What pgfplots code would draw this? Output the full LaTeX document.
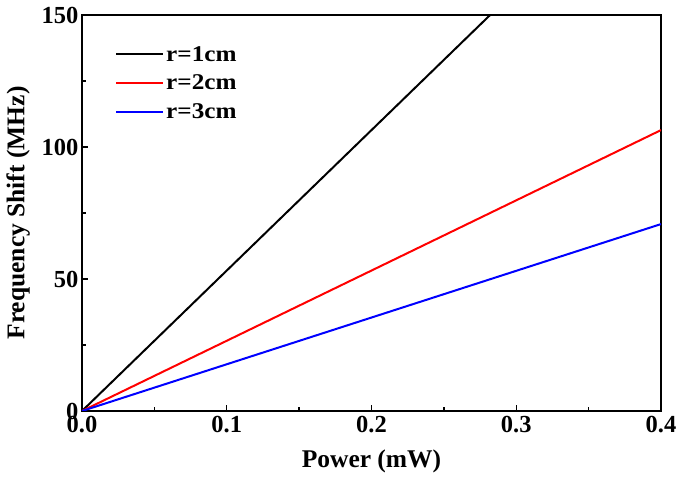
\documentclass[border=0pt]{standalone}
\usepackage{pgfplots}
\pgfplotsset{compat=1.18}
\usepackage{fontspec}
\setmainfont{Liberation Serif}
\newfontfamily\legfont{Liberation Serif}[FakeStretch=1.12]
\begin{document}
\begin{tikzpicture}
\begin{axis}[
 scale only axis, width=579pt, height=396pt,
 at={(0,0)}, anchor=south west,
 xmin=0,xmax=0.4,ymin=0,ymax=150,
 xtick={0,0.1,0.2,0.3,0.4}, ytick={0,50,100,150},
 minor x tick num=1, minor y tick num=1,
 tick align=inside, xtick pos=bottom, ytick pos=left,
 major tick length=6pt, minor tick length=4pt,
 tick style={line width=1.3pt, black},
 tick label style={font=\fontsize{24.5}{28}\selectfont\bfseries},
 /pgf/number format/assume math mode=true,
 xticklabel style={/pgf/number format/.cd, fixed, fixed zerofill, precision=1},
 xticklabel shift=2pt,
 label style={font=\fontsize{25.5}{30}\selectfont\bfseries},
 xlabel={Power (mW)}, ylabel={Frequency Shift (MHz)},
 xlabel style={yshift=-10pt},
 ylabel style={yshift=5pt},
 axis line style={line width=2pt},
 legend style={draw=none, fill=none, at={(33pt,367pt)}, anchor=north west, font=\legfont\fontsize{22.5}{25}\selectfont\bfseries, row sep=8.5pt, inner sep=0pt},
 legend cell align=left,
 legend image code/.code={\draw[#1] (0pt,0pt) -- (47pt,0pt);},
]
\addplot[black, line width=2pt] coordinates {(0,0) (0.4,212.8)};
\addlegendentry{r=1cm}
\addplot[red, line width=2pt] coordinates {(0,0) (0.4,106.4)};
\addlegendentry{r=2cm}
\addplot[blue, line width=2pt] coordinates {(0,0) (0.4,70.8)};
\addlegendentry{r=3cm}
\end{axis}
\pgfresetboundingbox
\path[use as bounding box] (-82pt,-67pt) rectangle (603pt,411pt);
\end{tikzpicture}
\end{document}
